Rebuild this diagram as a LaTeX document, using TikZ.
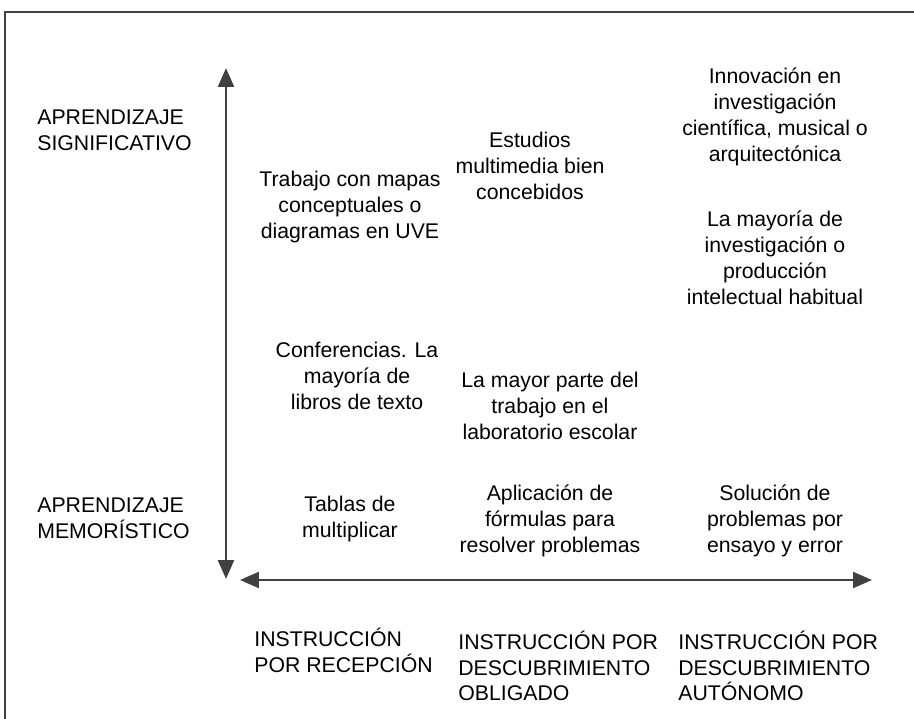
\documentclass[tikz,border=0pt]{standalone}
\usepackage{fontspec}
\setmainfont{Liberation Sans}
\usetikzlibrary{arrows.meta}

\begin{document}
\begin{tikzpicture}[x=0.02cm,y=-0.02cm,
    celltext/.style={shape=rectangle,
      inner sep=0pt,
      align=center,
      text=black,
      font=\fontsize{12.1}{14.7}\selectfont},
    axistext/.style={celltext,align=left},
    axisline/.style={-{Triangle[length=3.8mm,width=3.2mm]},line width=1.4pt,draw=black!75}]
      \useasboundingbox (0,0) rectangle (914,719);
      %\draw[help lines,step=50] (0,0) grid (914,719); % Only for Development

      % frame
      \draw[line width=0.9pt,draw=black!75] (5,719) -- (5,12) -- (914,12);

      % axes
      \coordinate (vmid) at (226,324);
      \coordinate (vtop) at (226,68);
      \coordinate (vbot) at (226,579);
      \coordinate (hmid) at (556,580);
      \coordinate (hleft) at (240,580);
      \coordinate (hright) at (872,580);
      \draw[axisline] (vmid) -- (vtop);
      \draw[axisline] (vmid) -- (vbot);
      \draw[axisline] (hmid) -- (hleft);
      \draw[axisline] (hmid) -- (hright);

      % labels of the vertical axis
      \node[axistext,anchor=west] (signif) at (37,130) {APRENDIZAJE\\SIGNIFICATIVO};
      \node[axistext,anchor=west] (memor) at (37,518) {APRENDIZAJE\\MEMORÍSTICO};

      % labels of the horizontal axis
      \node[axistext,anchor=west] (recep) at (254,650) {INSTRUCCIÓN\\POR RECEPCIÓN};
      \node[axistext,anchor=west] (oblig) at (458,666) {INSTRUCCIÓN POR\\DESCUBRIMIENTO\\OBLIGADO};
      \node[axistext,anchor=west] (auton) at (678,666) {INSTRUCCIÓN POR\\DESCUBRIMIENTO\\AUTÓNOMO};

      % first column
      \node[celltext] (mapas) at (350,207) {Trabajo con mapas\\conceptuales o\\diagramas en UVE};
      \node[celltext] (confer) at (357,376) {Conferencias. La\\mayoría de\\libros de texto};
      \node[celltext] (tablas) at (350,519) {Tablas de\\multiplicar};

      % second column
      \node[celltext] (estudios) at (530,166) {Estudios\\multimedia bien\\concebidos};
      \node[celltext] (labor) at (550,406) {La mayor parte del\\trabajo en el\\laboratorio escolar};
      \node[celltext] (formulas) at (550,521) {Aplicación de\\fórmulas para\\resolver problemas};

      % third column
      \node[celltext] (innov) at (775,117) {Innovación en\\investigación\\científica, musical o\\arquitectónica};
      \node[celltext] (invest) at (775,258) {La mayoría de\\investigación o\\producción\\intelectual habitual};
      \node[celltext] (ensayo) at (775,521) {Solución de\\problemas por\\ensayo y error};

    \end{tikzpicture}
\end{document}
